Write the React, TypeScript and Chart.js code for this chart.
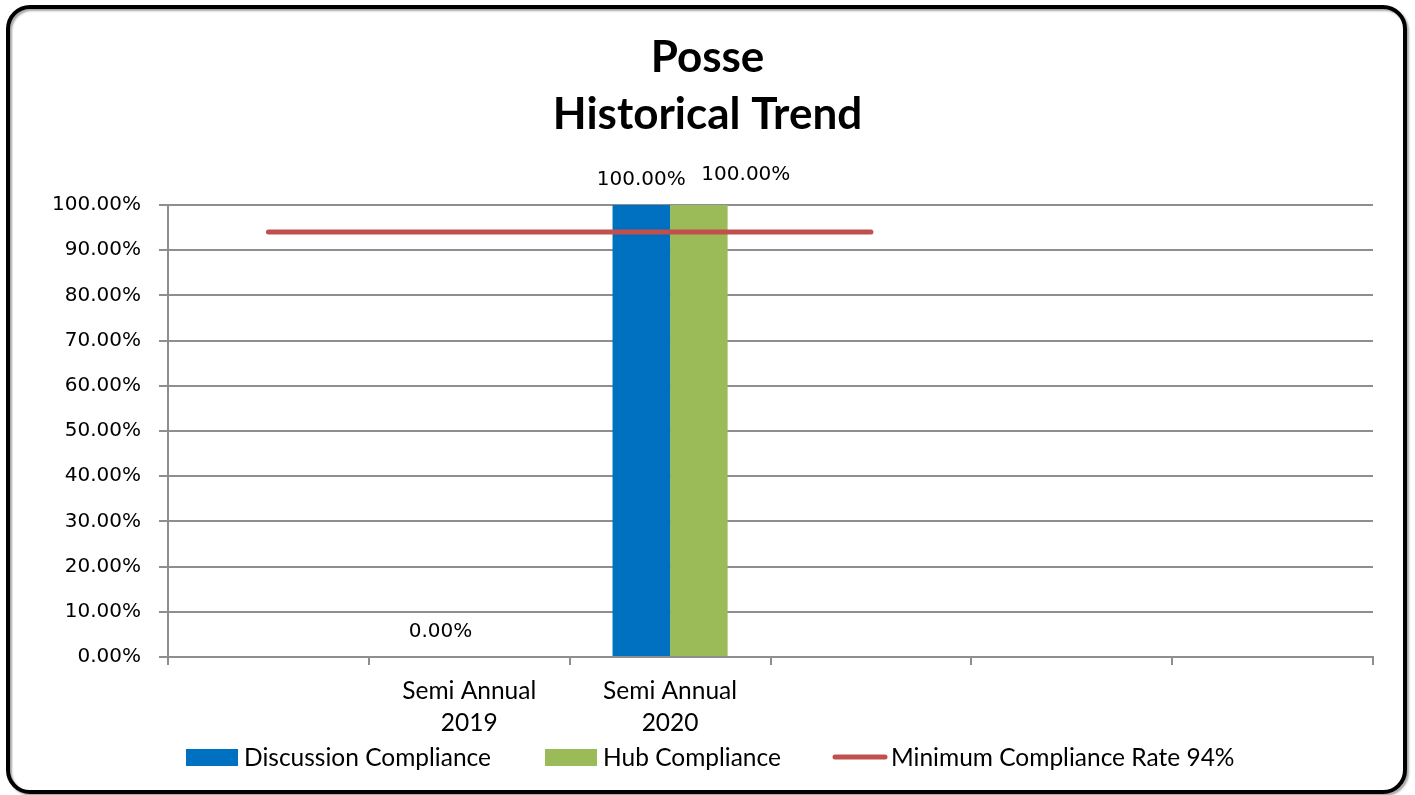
import React, { useEffect, useRef } from 'react';
import { Chart, registerables } from 'chart.js';

Chart.register(...registerables);

// ---- data ----
const categories: string[][] = [[''], ['Semi Annual', '2019'], ['Semi Annual', '2020'], [''], [''], ['']];
const discussionCompliance: (number | null)[] = [null, 0, 100, null, null, null];
const hubCompliance: (number | null)[] = [null, null, 100, null, null, null];
const minimumComplianceRate: (number | null)[] = [94, 94, 94, 94, null, null];
const seriesNames = ['Discussion Compliance', 'Hub Compliance', 'Minimum Compliance Rate 94%'];
const titleLines = ['Posse', 'Historical Trend'];

const BLUE = '#0070C0';
const GREEN = '#9BBB59';
const RED = '#C0504D';
const GRID = '#8E8E8E';
const LATO = 'Lato, "Liberation Sans", sans-serif';
const DEJAVU = '"DejaVu Sans", sans-serif';

const framePlugin = {
  id: 'frame',
  beforeDraw(chart: any) {
    const ctx = chart.ctx;
    ctx.save();
    ctx.fillStyle = '#ffffff';
    ctx.fillRect(0, 0, chart.width, chart.height);
    ctx.shadowColor = 'rgba(0,0,0,0.35)';
    ctx.shadowOffsetX = 2;
    ctx.shadowOffsetY = 2;
    ctx.shadowBlur = 2;
    ctx.strokeStyle = '#000000';
    ctx.lineWidth = 4;
    ctx.beginPath();
    (ctx as any).roundRect(8, 7, 1397, 785, 22);
    ctx.stroke();
    ctx.restore();
  },
};

const titlePlugin = {
  id: 'centerTitle',
  afterDraw(chart: any, _args: any, opts: any) {
    const ctx = chart.ctx;
    ctx.save();
    ctx.font = `bold 44px ${LATO}`;
    ctx.fillStyle = '#000000';
    ctx.textAlign = 'center';
    ctx.textBaseline = 'middle';
    (opts.lines as string[]).forEach((line, i) => {
      ctx.fillText(line, chart.width / 2, opts.y[i]);
    });
    ctx.restore();
  },
};

const dataLabelPlugin = {
  id: 'dataLabels',
  afterDatasetsDraw(chart: any, _args: any, opts: any) {
    const ctx = chart.ctx;
    ctx.save();
    ctx.font = `20px ${DEJAVU}`;
    ctx.fillStyle = '#000000';
    ctx.textAlign = 'center';
    ctx.textBaseline = 'middle';
    chart.data.datasets.forEach((ds: any, di: number) => {
      if (ds.type === 'line') return;
      const meta = chart.getDatasetMeta(di);
      const off = (opts.offsets && opts.offsets[di]) || { dx: 0, dy: 0 };
      meta.data.forEach((el: any, i: number) => {
        const v = ds.data[i];
        if (v === null || v === undefined) return;
        const txt = `${Number(v).toFixed(2)}%`;
        ctx.fillText(txt, el.x + off.dx, el.y - 25 + off.dy);
      });
    });
    ctx.restore();
  },
};

const legendPlugin = {
  id: 'customLegend',
  afterDraw(chart: any, _args: any, opts: any) {
    const ctx = chart.ctx;
    const xs: number[] = opts.xs;
    const y = opts.y;
    ctx.save();
    ctx.font = `24.5px ${LATO}`;
    ctx.textBaseline = 'middle';
    ctx.textAlign = 'left';
    chart.data.datasets.forEach((ds: any, i: number) => {
      const x = xs[i];
      if (ds.type === 'line') {
        ctx.strokeStyle = ds.borderColor;
        ctx.lineWidth = 5;
        ctx.lineCap = 'round';
        ctx.beginPath();
        ctx.moveTo(x + 2, y);
        ctx.lineTo(x + 52, y);
        ctx.stroke();
      } else {
        ctx.fillStyle = ds.backgroundColor;
        ctx.fillRect(x, y - 8, 52, 17);
      }
      ctx.fillStyle = '#000000';
      ctx.fillText(ds.label, x + 58, y + 1);
    });
    ctx.restore();
  },
};

export default function App() {
  const ref = useRef<HTMLCanvasElement | null>(null);

  useEffect(() => {
    if (!ref.current) return;
    const chart = new Chart(ref.current, {
      type: 'bar',
      data: {
        labels: categories as any,
        datasets: [
          {
            type: 'bar',
            label: seriesNames[0],
            data: discussionCompliance,
            backgroundColor: BLUE,
            borderWidth: 0,
            order: 2,
          } as any,
          {
            type: 'bar',
            label: seriesNames[1],
            data: hubCompliance,
            backgroundColor: GREEN,
            borderWidth: 0,
            order: 2,
          } as any,
          {
            type: 'line',
            label: seriesNames[2],
            data: minimumComplianceRate,
            borderColor: RED,
            backgroundColor: RED,
            borderWidth: 5,
            borderCapStyle: 'round',
            pointRadius: 0,
            pointHoverRadius: 0,
            fill: false,
            spanGaps: false,
            order: 0,
          } as any,
        ],
      },
      plugins: [framePlugin, titlePlugin, dataLabelPlugin, legendPlugin],
      options: {
        animation: false,
        responsive: true,
        maintainAspectRatio: false,
        events: [],
        categoryPercentage: 0.573,
        barPercentage: 1,
        layout: { padding: { left: 0, right: 42, top: 205, bottom: 0 } },
        plugins: {
          legend: { display: false },
          tooltip: { enabled: false },
          title: { display: false },
          centerTitle: { lines: titleLines, y: [58, 115] },
          dataLabels: { offsets: { 1: { dx: 47, dy: -5 } } },
          customLegend: { xs: [186, 545, 833], y: 757 },
        } as any,
        scales: {
          x: {
            offset: true,
            grid: {
              offset: true,
              drawOnChartArea: false,
              drawTicks: true,
              tickLength: 8,
              color: GRID,
              lineWidth: 2,
            },
            border: { display: true, color: GRID, width: 2 },
            ticks: {
              color: '#000000',
              font: { family: LATO, size: 24.5, lineHeight: 1.306 },
              autoSkip: false,
              maxRotation: 0,
              padding: 10,
            },
            afterFit: (scale: any) => {
              scale.height = 138;
            },
          },
          y: {
            min: 0,
            max: 100,
            grid: { color: GRID, lineWidth: 2, tickLength: 9, drawTicks: true },
            border: { display: true, color: GRID, width: 2 },
            ticks: {
              stepSize: 10,
              color: '#000000',
              font: { family: DEJAVU, size: 20 },
              padding: 18,
              callback: (v: any) => `${Number(v).toFixed(2)}%`,
            },
            afterFit: (scale: any) => {
              scale.width = 168;
            },
          },
        },
      } as any,
    });
    return () => chart.destroy();
  }, []);

  return (
    <div style={{ position: 'absolute', left: 0, top: 0, width: 1415, height: 795 }}>
      <canvas ref={ref} />
    </div>
  );
}
